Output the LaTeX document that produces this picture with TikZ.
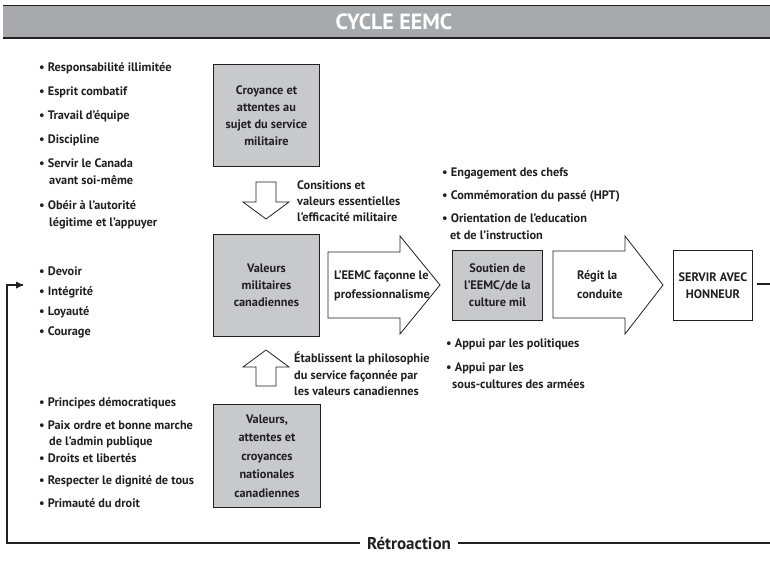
\documentclass[tikz,border=0pt]{standalone}
\usepackage{fontspec}
\setmainfont{PT Sans}
\usetikzlibrary{arrows.meta}
\definecolor{ink}{HTML}{231F20}
\definecolor{boxgray}{HTML}{C8C9CB}
\definecolor{bargray}{HTML}{A7A9AC}
\begin{document}
\begin{tikzpicture}[x=1pt,y=-1pt,
  txt/.style={text=ink,font=\bfseries\fontsize{12.3}{17}\selectfont,inner sep=0pt,anchor=west,text height=8.6pt,text depth=0pt},
  ctxt/.style={text=ink,font=\bfseries\fontsize{12.3}{17}\selectfont,inner sep=0pt,align=center},
  graybox/.style={draw=ink,fill=boxgray,line width=0.9pt,inner sep=0pt,anchor=north west},
  whitebox/.style={draw=ink,fill=white,line width=0.9pt,inner sep=0pt,anchor=north west},
  blockarrow/.style={draw=ink,fill=white,line width=0.8pt,line join=miter},
  fb/.style={draw=ink,line width=1.3pt}
]
\useasboundingbox (0,0) rectangle (770,574);

% title bar
\fill[bargray] (3,5) rectangle (770,38);
\draw[ink,line width=1pt] (3,5) -- (770,5);
\draw[ink,line width=1.2pt] (3,38) -- (770,38);
\node[text=white,font=\bfseries\fontsize{22}{24}\selectfont,inner sep=0pt] (title) at (394,22) {CYCLE EEMC};

% list 1
\node[txt] (a1) at (39,67) {• Responsabilité illimitée};
\node[txt] (a2) at (39,91) {• Esprit combatif};
\node[txt] (a3) at (39,115) {• Travail d'équipe};
\node[txt] (a4) at (39,139) {• Discipline};
\node[txt] (a5) at (39,163) {• Servir le Canada};
\node[txt] (a5b) at (49,180) {avant soi-même};
\node[txt] (a6) at (39,205) {• Obéir à l'autorité};
\node[txt] (a6b) at (49,222) {légitime et l'appuyer};

% list 2
\node[txt] (d1) at (39,271) {• Devoir};
\node[txt] (d2) at (39,291) {• Intégrité};
\node[txt] (d3) at (39,311) {• Loyauté};
\node[txt] (d4) at (39,331) {• Courage};

% list 3
\node[txt] (p1) at (39,402) {• Principes démocratiques};
\node[txt] (p2) at (39,425) {• Paix ordre et bonne marche};
\node[txt] (p2b) at (49,441) {de l'admin publique};
\node[txt] (p3) at (39,458) {• Droits et libertés};
\node[txt] (p4) at (39,480) {• Respecter le dignité de tous};
\node[txt] (p5) at (39,503) {• Primauté du droit};

% boxes column
\node[graybox,minimum width=106pt,minimum height=102pt] (b1) at (213,64) {};
\node[ctxt] (b1t) at (b1.center) {Croyance et\\attentes au\\sujet du service\\militaire};
\node[graybox,minimum width=106pt,minimum height=102pt] (b2) at (213,234) {};
\node[ctxt] (b2t) at (b2.center) {Valeurs\\militaires\\canadiennes};
\node[graybox,minimum width=107pt,minimum height=103pt] (b3) at (213,404) {};
\node[ctxt,font=\bfseries\fontsize{12.3}{18.5}\selectfont] (b3t) at (b3.center) {Valeurs,\\attentes et\\croyances\\nationales\\canadiennes};

% down arrow
\draw[blockarrow] (256,182) -- (276,182) -- (276,202) -- (289,202) -- (266,219) -- (243,202) -- (256,202) -- cycle;
\node[txt] (c1) at (297,185) {Consitions et};
\node[txt] (c2) at (297,201) {valeurs essentielles};
\node[txt] (c3) at (297,217) {l'efficacité militaire};

% up arrow
\draw[blockarrow] (256,386) -- (276,386) -- (276,367) -- (289,367) -- (266,350) -- (243,367) -- (256,367) -- cycle;
\node[txt] (e1) at (294,358) {Établissent la philosophie};
\node[txt] (e2) at (294,375) {du service façonnée par};
\node[txt] (e3) at (294,391) {les valeurs canadiennes};

% big arrow 1
\draw[blockarrow] (328,252) -- (400,252) -- (400,236) -- (440,285) -- (400,334) -- (400,318) -- (328,318) -- cycle;
\node[txt] (f1) at (334,275) {L'EEMC façonne le};
\node[txt] (f2) at (334,294) {professionnalisme};

% box 4
\node[graybox,minimum width=90pt,minimum height=70pt] (b4) at (452,250) {};
\node[ctxt] (b4t) at (b4.center) {Soutien de\\l'EEMC/de la\\culture mil};

% list 4
\node[txt] (g1) at (442,172) {• Engagement des chefs};
\node[txt] (g2) at (442,195) {• Commémoration du passé (HPT)};
\node[txt] (g3) at (442,218) {• Orientation de l'education};
\node[txt] (g3b) at (450,235) {et de l'instruction};

% list 5
\node[txt] (h1) at (446,343) {• Appui par les politiques};
\node[txt] (h2) at (446,367) {• Appui par les};
\node[txt] (h2b) at (452,384) {sous-cultures des armées};

% big arrow 2
\draw[blockarrow] (553,251) -- (625,251) -- (625,236) -- (663,285) -- (625,334) -- (625,318) -- (553,318) -- cycle;
\node[txt] (r1) at (577,275) {Régit la};
\node[txt] (r2) at (577,294) {conduite};

% box 5
\node[whitebox,minimum width=79pt,minimum height=70pt] (b5) at (673,250) {};
\node[ctxt] (b5t) at (b5.center) {SERVIR AVEC\\HONNEUR};

% feedback
\coordinate (fs) at (757,284);
\coordinate (fe) at (770,284);
\coordinate (br) at (770,543);
\coordinate (bl) at (7,543);
\coordinate (tl) at (7,285);
\coordinate (tip) at (23,285);
\draw[fb] (fs) -- (fe);
\draw[fb] (br) -- (bl) -- (tl) -- (tip);
\fill[ink] (tip) -- ++(-7,-3.5) -- ++(0,7) -- cycle;
\node[text=ink,font=\bfseries\fontsize{17}{19}\selectfont,fill=white,inner xsep=7pt,inner ysep=2pt] (retro) at (409,543) {Rétroaction};
\end{tikzpicture}
\end{document}
